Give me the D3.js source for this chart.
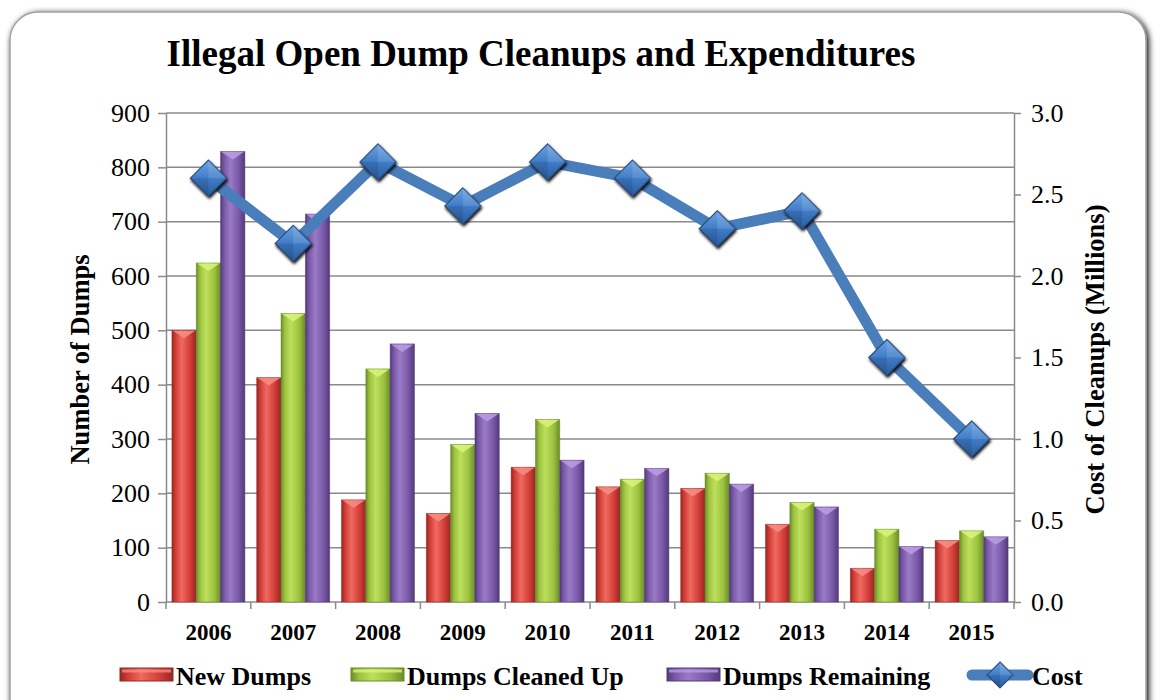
<!DOCTYPE html>
<html>
<head>
<meta charset="utf-8">
<script src="https://cdn.jsdelivr.net/npm/d3@7"></script>
<style>
  body { margin: 0; background: #fff; }
  svg { display: block; }
</style>
</head>
<body>
<svg id="chart" width="1156" height="700"></svg>
<script>
var years = ["2006","2007","2008","2009","2010","2011","2012","2013","2014","2015"]
var newDumps = [500, 413, 188, 163, 248, 212, 209, 143, 62, 113]
var cleanedUp = [624, 531, 429, 290, 336, 226, 237, 183, 134, 131]
var remaining = [829, 714, 475, 347, 261, 246, 217, 175, 102, 120]
var cost = [2.6, 2.2, 2.7, 2.43, 2.7, 2.6, 2.29, 2.4, 1.5, 1.0]
var seriesNames = ["New Dumps", "Dumps Cleaned Up", "Dumps Remaining"]
var leftTicks = [0, 100, 200, 300, 400, 500, 600, 700, 800, 900]
var rightTicks = [0, 0.5, 1.0, 1.5, 2.0, 2.5, 3.0]

var svg = d3.select("#chart"),
	serif = "'Liberation Serif', 'Times New Roman', serif",
	axisColor = "#8a8a8a",
	plotL = 166, plotR = 1014, plotT = 113, plotB = 602

var palette = [
	{ main: "#d23c37", light: "#ef6a60", dark: "#962722", cap: "#f58b82" },
	{ main: "#9bc13f", light: "#bde05c", dark: "#6a8c27", cap: "#d9f27a" },
	{ main: "#7a58a8", light: "#9a7bc6", dark: "#523a78", cap: "#b89be0" }
]

var defs = svg.append("defs")

var shadow = defs.append("filter").attr("id", "shadow")
	.attr("x", "-5%").attr("y", "-5%").attr("width", "110%").attr("height", "110%")
shadow.append("feGaussianBlur").attr("in", "SourceAlpha").attr("stdDeviation", 3)
shadow.append("feOffset").attr("dx", 2).attr("dy", 2).attr("result", "blur")
var merge = shadow.append("feMerge")
merge.append("feMergeNode").attr("in", "blur")
merge.append("feMergeNode").attr("in", "SourceGraphic")

var markShadow = defs.append("filter").attr("id", "markShadow")
	.attr("x", "-30%").attr("y", "-30%").attr("width", "160%").attr("height", "160%")
markShadow.append("feGaussianBlur").attr("in", "SourceAlpha").attr("stdDeviation", 1.5)
markShadow.append("feOffset").attr("dx", 1).attr("dy", 2).attr("result", "blur")
var merge2 = markShadow.append("feMerge")
merge2.append("feMergeNode").attr("in", "blur")
merge2.append("feMergeNode").attr("in", "SourceGraphic")

palette.forEach(function (c, i) {
	var g = defs.append("linearGradient").attr("id", "bar" + i)
		.attr("x1", 0).attr("x2", 1).attr("y1", 0).attr("y2", 0)
	g.append("stop").attr("offset", "0%").attr("stop-color", c.dark)
	g.append("stop").attr("offset", "15%").attr("stop-color", c.main)
	g.append("stop").attr("offset", "40%").attr("stop-color", c.light)
	g.append("stop").attr("offset", "75%").attr("stop-color", c.main)
	g.append("stop").attr("offset", "100%").attr("stop-color", c.dark)
})

var dg = defs.append("linearGradient").attr("id", "diamond")
	.attr("x1", 0).attr("x2", 0).attr("y1", 0).attr("y2", 1)
dg.append("stop").attr("offset", "0%").attr("stop-color", "#6ea3e2")
dg.append("stop").attr("offset", "50%").attr("stop-color", "#3f7cc8")
dg.append("stop").attr("offset", "100%").attr("stop-color", "#2b5c9c")

// frame
svg.append("rect")
	.attr("x", 10).attr("y", 12).attr("width", 1136).attr("height", 720)
	.attr("rx", 28)
	.attr("fill", "#fff").attr("stroke", "#a0a0a0").attr("stroke-width", 1.5)
	.attr("filter", "url(#shadow)")

// scales
var x0 = d3.scaleBand().domain(years).range([plotL, plotR]).padding(0)
var x1 = d3.scaleBand().domain(d3.range(3)).range([0, x0.bandwidth()])
	.paddingInner(0).paddingOuter(0.243)
var y = d3.scaleLinear().domain([0, 900]).range([plotB, plotT])
var y2 = d3.scaleLinear().domain([0, 3]).range([plotB, plotT])

// gridlines
svg.append("g").selectAll("line").data(leftTicks.filter(function (d) { return d > 0 }))
	.enter().append("line")
	.attr("x1", plotL).attr("x2", plotR)
	.attr("y1", function (d) { return y(d) }).attr("y2", function (d) { return y(d) })
	.attr("stroke", axisColor).attr("stroke-width", 1.5)

// axes
function styleAxis(g) {
	g.attr("font-family", serif)
	g.select(".domain").attr("stroke", axisColor).attr("stroke-width", 1.5)
	g.selectAll(".tick line").attr("stroke", axisColor).attr("stroke-width", 1.5)
	g.selectAll(".tick text").attr("fill", "#000")
		.style("font-family", serif).style("font-size", "26px")
}

svg.append("g").attr("transform", "translate(" + plotL + ",0)")
	.call(d3.axisLeft(y).tickValues(leftTicks).tickSize(8).tickSizeOuter(0).tickPadding(8))
	.call(styleAxis)

svg.append("g").attr("transform", "translate(" + plotR + ",0)")
	.call(d3.axisRight(y2).tickValues(rightTicks).tickFormat(d3.format(".1f"))
		.tickSize(7).tickSizeOuter(0).tickPadding(10))
	.call(styleAxis)

var xAxis = svg.append("g").attr("transform", "translate(0," + plotB + ")")
xAxis.append("line").attr("x1", plotL).attr("x2", plotR)
	.attr("stroke", axisColor).attr("stroke-width", 1.5)
xAxis.selectAll(".sep").data(years.concat(["end"]))
	.enter().append("line")
	.attr("x1", function (d, i) { return plotL + i * x0.step() })
	.attr("x2", function (d, i) { return plotL + i * x0.step() })
	.attr("y1", 0).attr("y2", 7)
	.attr("stroke", axisColor).attr("stroke-width", 1.5)
xAxis.selectAll("text").data(years)
	.enter().append("text")
	.attr("x", function (d) { return x0(d) + x0.bandwidth() / 2 })
	.attr("y", 38)
	.attr("text-anchor", "middle")
	.style("font-family", serif).style("font-size", "23px").style("font-weight", "bold")
	.text(function (d) { return d })

// bars
var seriesData = [newDumps, cleanedUp, remaining]
var bars = svg.append("g")
seriesData.forEach(function (vals, s) {
	var c = palette[s]
	var g = bars.append("g")
	var bw = x1.bandwidth()
	g.selectAll("rect").data(vals).enter().append("rect")
		.attr("x", function (d, i) { return x0(years[i]) + x1(s) })
		.attr("y", function (d) { return y(d) })
		.attr("width", bw)
		.attr("height", function (d) { return plotB - y(d) })
		.attr("fill", "url(#bar" + s + ")")
		.attr("stroke", c.dark).attr("stroke-opacity", 0.6).attr("stroke-width", 0.8)
	g.selectAll("path").data(vals).enter().append("path")
		.attr("d", function (d, i) {
			var bx = x0(years[i]) + x1(s), by = y(d), h = Math.min(8, plotB - y(d))
			return "M" + (bx + 1) + "," + (by + 0.5) + "L" + (bx + bw - 1) + "," + (by + 0.5) +
				"L" + (bx + bw / 2) + "," + (by + h) + "Z"
		})
		.attr("fill", c.cap).attr("opacity", 0.9)
})

// cost line
var line = d3.line()
	.x(function (d, i) { return x0(years[i]) + x0.bandwidth() / 2 })
	.y(function (d) { return y2(d) })
svg.append("path").datum(cost)
	.attr("d", line)
	.attr("fill", "none").attr("stroke", "#4a7ebb").attr("stroke-width", 11)
	.attr("stroke-linejoin", "round")

function diamond(g, r) {
	g.append("path")
		.attr("d", "M0," + (-r) + "L" + r + ",0L0," + r + "L" + (-r) + ",0Z")
		.attr("fill", "url(#diamond)").attr("stroke", "#2b4f7e").attr("stroke-width", 1.2)
	g.append("path")
		.attr("d", "M0," + (-r) + "L" + r + ",0L0,0Z")
		.attr("fill", "#fff").attr("opacity", 0.12)
	g.append("path")
		.attr("d", "M0," + r + "L" + (-r) + ",0L0,0Z")
		.attr("fill", "#000").attr("opacity", 0.1)
}

svg.append("g").selectAll("g").data(cost).enter().append("g")
	.attr("transform", function (d, i) {
		return "translate(" + (x0(years[i]) + x0.bandwidth() / 2) + "," + y2(d) + ")"
	})
	.attr("filter", "url(#markShadow)")
	.each(function () { diamond(d3.select(this), 18) })

// titles
svg.append("text")
	.attr("x", 541).attr("y", 66).attr("text-anchor", "middle")
	.style("font-family", serif).style("font-size", "37px").style("font-weight", "bold")
	.text("Illegal Open Dump Cleanups and Expenditures")

svg.append("text")
	.attr("transform", "translate(89," + ((plotT + plotB) / 2 + 2) + ") rotate(-90)")
	.attr("text-anchor", "middle")
	.style("font-family", serif).style("font-size", "26.5px").style("font-weight", "bold")
	.text("Number of Dumps")

svg.append("text")
	.attr("transform", "translate(1104," + ((plotT + plotB) / 2 + 2) + ") rotate(-90)")
	.attr("text-anchor", "middle")
	.style("font-family", serif).style("font-size", "26.5px").style("font-weight", "bold")
	.text("Cost of Cleanups (Millions)")

// legend
var legend = svg.append("g")
var legendX = [120, 351, 667]
seriesNames.forEach(function (name, s) {
	var lx = legendX[s]
	legend.append("rect").attr("x", lx).attr("y", 668).attr("width", 53).attr("height", 13)
		.attr("fill", "url(#bar" + s + ")").attr("stroke", palette[s].dark).attr("stroke-width", 1)
	legend.append("rect").attr("x", lx + 2).attr("y", 669.5).attr("width", 49).attr("height", 3)
		.attr("fill", palette[s].cap).attr("opacity", 0.8)
	legend.append("text").attr("x", lx + 56).attr("y", 685)
		.style("font-family", serif).style("font-size", "26px").style("font-weight", "bold")
		.text(name)
})
legend.append("line").attr("x1", 972).attr("x2", 1028).attr("y1", 675).attr("y2", 675)
	.attr("stroke", "#4a7ebb").attr("stroke-width", 11).attr("stroke-linecap", "round")
diamond(legend.append("g").attr("transform", "translate(1000,675)"), 13)
legend.append("text").attr("x", 1032).attr("y", 685)
	.style("font-family", serif).style("font-size", "26px").style("font-weight", "bold")
	.text("Cost")
</script>
</body>
</html>
